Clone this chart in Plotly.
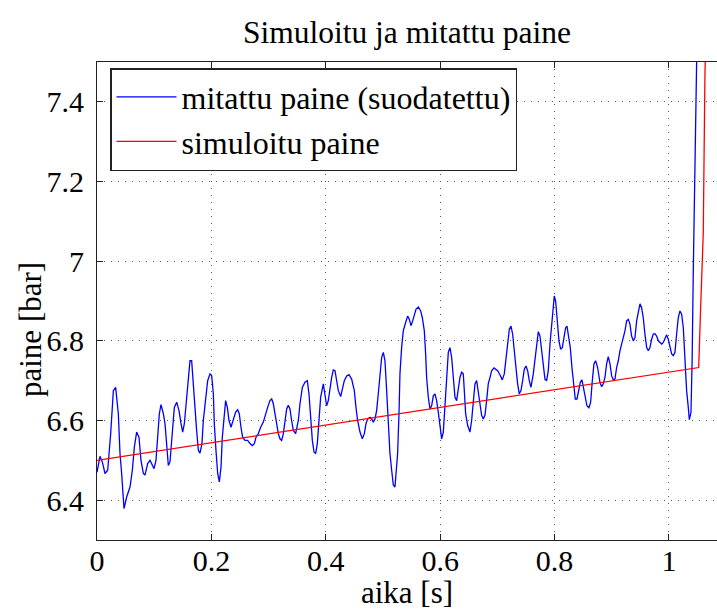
import plotly.graph_objects as go

# measured (filtered) pressure, bar
t_meas = [
    0.0, 0.0052, 0.0093, 0.014, 0.0187, 0.0239, 0.0286, 0.0326, 0.0373, 0.0402,
    0.0431, 0.0472, 0.0519, 0.0577, 0.0618, 0.0653, 0.0693, 0.0734, 0.0769, 0.081,
    0.0839, 0.0886, 0.0927, 0.0956, 0.0997, 0.1031, 0.1061, 0.109, 0.1119, 0.116,
    0.1189, 0.1218, 0.1247, 0.1276, 0.1317, 0.1352, 0.1393, 0.1434, 0.1469, 0.1498,
    0.1527, 0.1556, 0.1585, 0.1626, 0.1655, 0.1684, 0.1713, 0.1742, 0.1772, 0.1801,
    0.1835, 0.1859, 0.19, 0.1935, 0.1976, 0.2005, 0.2034, 0.2051, 0.208, 0.211,
    0.2139, 0.2168, 0.2191, 0.222, 0.2249, 0.2279, 0.2308, 0.2343, 0.2383, 0.2424,
    0.2459, 0.2488, 0.2517, 0.2547, 0.2587, 0.2634, 0.2675, 0.2716, 0.2751, 0.278,
    0.2821, 0.2861, 0.2908, 0.2949, 0.2984, 0.3024, 0.3054, 0.3083, 0.3112, 0.3141,
    0.317, 0.3199, 0.3228, 0.3258, 0.3287, 0.3316, 0.3345, 0.3374, 0.3403, 0.3432,
    0.3473, 0.352, 0.3549, 0.359, 0.3636, 0.3677, 0.3706, 0.3735, 0.3765, 0.3794,
    0.3823, 0.3852, 0.3881, 0.391, 0.3957, 0.3986, 0.4015, 0.4044, 0.4073, 0.4103,
    0.4132, 0.4161, 0.419, 0.4219, 0.426, 0.4289, 0.4324, 0.4365, 0.4406, 0.4452,
    0.4499, 0.4528, 0.4557, 0.4598, 0.4639, 0.4674, 0.4703, 0.4732, 0.4773, 0.4802,
    0.4831, 0.486, 0.4889, 0.4918, 0.4948, 0.4977, 0.5006, 0.5035, 0.5064, 0.5093,
    0.5122, 0.5152, 0.5181, 0.521, 0.5227, 0.5256, 0.528, 0.5297, 0.5326, 0.5355,
    0.5396, 0.5431, 0.546, 0.549, 0.5519, 0.5548, 0.5577, 0.5618, 0.5659, 0.5688,
    0.5723, 0.5746, 0.5763, 0.5793, 0.5822, 0.5851, 0.588, 0.5909, 0.5938, 0.5967,
    0.5997, 0.6026, 0.6055, 0.6084, 0.6113, 0.6142, 0.6171, 0.6201, 0.623, 0.6259,
    0.6288, 0.6317, 0.6346, 0.6375, 0.6404, 0.6422, 0.6445, 0.648, 0.6521, 0.655,
    0.6579, 0.6608, 0.6638, 0.6667, 0.6696, 0.6725, 0.6754, 0.6783, 0.6812, 0.6841,
    0.6871, 0.69, 0.6941, 0.6976, 0.7005, 0.7045, 0.7086, 0.7121, 0.715, 0.718,
    0.7209, 0.7238, 0.7267, 0.7296, 0.7325, 0.7354, 0.7383, 0.7413, 0.7442, 0.7471,
    0.75, 0.7529, 0.7558, 0.7587, 0.7628, 0.7657, 0.7687, 0.7716, 0.7745, 0.7774,
    0.7803, 0.7832, 0.7861, 0.789, 0.792, 0.7949, 0.7978, 0.7995, 0.8019, 0.8048,
    0.8077, 0.8106, 0.8135, 0.8164, 0.8194, 0.8217, 0.8246, 0.8275, 0.8304, 0.8333,
    0.8362, 0.8392, 0.8421, 0.845, 0.8479, 0.8508, 0.8537, 0.8566, 0.8601, 0.8631,
    0.866, 0.8689, 0.8718, 0.8753, 0.8794, 0.8823, 0.8852, 0.8881, 0.891, 0.8939,
    0.8969, 0.8998, 0.9027, 0.9056, 0.9085, 0.9114, 0.9143, 0.9173, 0.9202, 0.9231,
    0.926, 0.9289, 0.9318, 0.9347, 0.9377, 0.9406, 0.9435, 0.9464, 0.9493, 0.9522,
    0.9551, 0.958, 0.961, 0.9639, 0.9668, 0.9697, 0.9726, 0.9755, 0.9784, 0.9814,
    0.9843, 0.9872, 0.9901, 0.993, 0.9959, 0.9988, 1.0017, 1.0047, 1.0076, 1.0105,
    1.0134, 1.0163, 1.0192, 1.0222, 1.0251, 1.0268, 1.0291, 1.0309, 1.0338, 1.0356,
    1.0385, 1.0405, 1.0425, 1.0465, 1.0495,
]
p_meas = [
    6.47, 6.51, 6.496, 6.467, 6.475, 6.567, 6.675, 6.683, 6.617, 6.517,
    6.467, 6.379, 6.408, 6.433, 6.475, 6.533, 6.571, 6.558, 6.5, 6.467,
    6.463, 6.492, 6.5, 6.492, 6.479, 6.5, 6.558, 6.617, 6.64, 6.617,
    6.592, 6.533, 6.487, 6.496, 6.583, 6.633, 6.646, 6.625, 6.592, 6.571,
    6.592, 6.633, 6.683, 6.75, 6.75, 6.7, 6.633, 6.575, 6.525, 6.518,
    6.542, 6.6, 6.663, 6.7, 6.717, 6.713, 6.667, 6.592, 6.525, 6.467,
    6.446, 6.483, 6.558, 6.617, 6.65, 6.633, 6.6, 6.583, 6.6, 6.621,
    6.627, 6.617, 6.583, 6.558, 6.55, 6.55, 6.542, 6.537, 6.542, 6.558,
    6.567, 6.583, 6.596, 6.613, 6.633, 6.65, 6.654, 6.642, 6.617, 6.592,
    6.567, 6.554, 6.55, 6.567, 6.6, 6.629, 6.638, 6.629, 6.6, 6.575,
    6.567, 6.6, 6.642, 6.683, 6.696, 6.7, 6.667, 6.6, 6.55, 6.521,
    6.517, 6.542, 6.6, 6.658, 6.692, 6.658, 6.637, 6.65, 6.683, 6.708,
    6.727, 6.725, 6.7, 6.675, 6.66, 6.675, 6.7, 6.712, 6.715, 6.704,
    6.675, 6.633, 6.6, 6.571, 6.554, 6.567, 6.592, 6.604, 6.608, 6.604,
    6.596, 6.604, 6.625, 6.667, 6.717, 6.758, 6.771, 6.75, 6.675, 6.592,
    6.517, 6.475, 6.438, 6.433, 6.467, 6.517, 6.617, 6.717, 6.783, 6.825,
    6.846, 6.862, 6.854, 6.838, 6.85, 6.867, 6.879, 6.885, 6.875, 6.858,
    6.825, 6.767, 6.708, 6.658, 6.629, 6.637, 6.662, 6.667, 6.65, 6.621,
    6.583, 6.554, 6.571, 6.633, 6.717, 6.771, 6.783, 6.758, 6.708, 6.658,
    6.65, 6.675, 6.708, 6.721, 6.717, 6.675, 6.617, 6.588, 6.571, 6.6,
    6.65, 6.692, 6.7, 6.667, 6.633, 6.613, 6.604, 6.613, 6.65, 6.692,
    6.708, 6.725, 6.732, 6.727, 6.725, 6.715, 6.702, 6.717, 6.75, 6.792,
    6.829, 6.837, 6.817, 6.775, 6.725, 6.692, 6.667, 6.675, 6.7, 6.729,
    6.737, 6.725, 6.7, 6.683, 6.717, 6.758, 6.8, 6.823, 6.812, 6.775,
    6.733, 6.704, 6.7, 6.725, 6.792, 6.842, 6.892, 6.9125, 6.9, 6.842,
    6.8, 6.779, 6.783, 6.808, 6.833, 6.837, 6.812, 6.783, 6.733, 6.683,
    6.654, 6.654, 6.675, 6.696, 6.702, 6.683, 6.658, 6.637, 6.632, 6.646,
    6.7, 6.742, 6.75, 6.733, 6.695, 6.685, 6.692, 6.708, 6.742, 6.76,
    6.742, 6.712, 6.702, 6.704, 6.733, 6.75, 6.775, 6.792, 6.804, 6.825,
    6.85, 6.854, 6.842, 6.812, 6.8, 6.808, 6.85, 6.875, 6.893, 6.883,
    6.858, 6.817, 6.783, 6.775, 6.783, 6.804, 6.817, 6.818, 6.812, 6.8,
    6.796, 6.792, 6.796, 6.808, 6.815, 6.804, 6.783, 6.767, 6.763, 6.771,
    6.817, 6.858, 6.875, 6.867, 6.833, 6.783, 6.733, 6.675, 6.633, 6.602,
    6.62, 6.75, 6.97, 7.28, 7.6,
]

# simulated pressure, bar
t_sim = [0.0, 1.052, 1.0554, 1.06, 1.0629, 1.065]
p_sim = [6.50, 6.733, 6.883, 7.07, 7.467, 7.6]

x_ticks = [0, 0.2, 0.4, 0.6, 0.8, 1]
x_tick_text = ["0", "0.2", "0.4", "0.6", "0.8", "1"]
y_ticks = [6.4, 6.6, 6.8, 7.0, 7.2, 7.4]
y_tick_text = ["6.4", "6.6", "6.8", "7", "7.2", "7.4"]

SERIF = "Liberation Serif, Times New Roman, serif"

fig = go.Figure()
fig.add_trace(go.Scatter(
    x=t_meas, y=p_meas, mode="lines", name="mitattu paine (suodatettu)",
    line=dict(color="#0000ff", width=1.3),
))
fig.add_trace(go.Scatter(
    x=t_sim, y=p_sim, mode="lines", name="simuloitu paine",
    line=dict(color="#ff0000", width=1.3),
))

axis_common = dict(
    showline=True, linecolor="#222222", linewidth=1.2,
    ticks="inside", ticklen=6, tickwidth=1, tickcolor="#222222",
    showgrid=True, gridcolor="#555555", gridwidth=1, griddash="1px,6px",
    zeroline=False,
    tickfont=dict(family=SERIF, size=30, color="black"),
)

fig.update_layout(
    width=717, height=610,
    margin=dict(l=97, r=0, t=62, b=70),
    paper_bgcolor="white", plot_bgcolor="white",
    font=dict(family=SERIF, size=30, color="black"),
    title=dict(
        text="Simuloitu ja mitattu paine",
        font=dict(family=SERIF, size=31.5, color="black"),
        x=0.5, xref="paper", xanchor="center",
        y=1 - 32 / 610, yref="container", yanchor="middle",
    ),
    xaxis=dict(
        range=[0, 1.084], tickvals=x_ticks, ticktext=x_tick_text,
        mirror="ticks", ticklabelstandoff=-6,
        title=dict(text="aika [s]", font=dict(family=SERIF, size=31, color="black"),
                   standoff=8),
        **axis_common,
    ),
    yaxis=dict(
        range=[6.3, 7.5], tickvals=y_ticks, ticktext=y_tick_text,
        mirror=False, ticklabelstandoff=6,
        **axis_common,
    ),
    legend=dict(
        x=(110 - 97) / 620, y=(540 - 68) / 478, xanchor="left", yanchor="top",
        bgcolor="white", bordercolor="#222222", borderwidth=1.5,
        font=dict(family=SERIF, size=32, color="black"),
        itemwidth=60, tracegroupgap=0,
    ),
    showlegend=True,
    annotations=[dict(
        text="paine [bar]", textangle=-90, showarrow=False,
        xref="paper", yref="paper", x=(30 - 97) / 620, y=(540 - 330) / 478,
        xanchor="center", yanchor="middle",
        font=dict(family=SERIF, size=31, color="black"),
    )],
)

fig.write_html("out.html")
